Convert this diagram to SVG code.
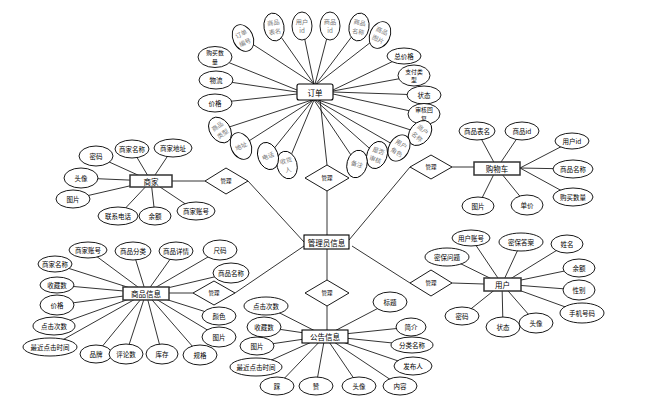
<svg xmlns="http://www.w3.org/2000/svg" width="647" height="405" viewBox="0 0 647 405">
<style>
.l{stroke:#000;stroke-width:0.8;fill:none}
ellipse{fill:#fff;stroke:#000;stroke-width:0.9}
.e{fill:#fff;stroke:#333;stroke-width:1.5}
.m{fill:#fff;stroke:#000;stroke-width:1.1}
polygon{fill:#fff;stroke:#000;stroke-width:0.9}
text{font-family:"Noto Sans CJK SC","Noto Sans",sans-serif;font-size:6.5px;text-anchor:middle;dominant-baseline:central;fill:#000}
.g{fill:#777;font-size:6.2px}
.w{font-size:5.8px}
.n{font-size:7.5px}
.s{font-size:5.5px}
</style>
<rect width="647" height="405" fill="#fff"/>
<g id="connectors" class="l">
<path d="M243,38L314,84M274,27L314,84M302,26L314,84M330,26L315,84M359,27L316,84M380,35L317,84M215,57L297,90M216,80L297,92M215,103L297,94M404,56L333,90M414,76L333,91M424,95L333,92M424,114L333,94M420,133L318,100M399,148L316,100M377,155L315,100M357,164L314,100M287,165L314,100M268,156L313,100M241,146L313,100M220,130L312,100M320,100L327,165M327,191L327,235"/>
<path d="M96,156L151,181M132,149L151,181M173,148L151,181M81,178L151,181M73,199L151,181M118,216L151,181M155,216L151,181M196,211L151,181M172,181L205,181M248,181L304,242"/>
<path d="M477,131L497,168M522,131L497,168M572,141L520,168M573,169L520,168M573,197L520,168M527,205L497,168M478,206L497,168M349,240L410,167M452,167L474,167"/>
<path d="M471,238L502,284M447,257L502,284M521,243L502,284M567,244L502,284M579,268L502,284M579,290L502,284M582,313L502,284M536,323L502,284M503,327L502,284M462,316L502,284M352,246L410,283M452,283L484,284"/>
<path d="M266,306L325,336M264,327L325,336M257,346L325,336M256,367L325,336M277,386L325,336M316,386L325,336M359,386L325,336M400,386L325,336M413,366L325,336M412,345L325,336M411,327L325,336M390,302L325,336M327,249L327,280M327,306L327,330"/>
<path d="M88,250L146,293M133,251L146,293M176,251L146,293M220,250L146,293M55,264L146,293M231,273L146,293M57,285L146,293M57,305L146,293M54,326L146,293M50,347L146,293M96,354L146,293M126,354L146,293M162,354L146,293M200,355L146,293M219,316L146,293M219,337L146,293M169,293L193,293M235,293L304,246"/>
</g>
<g id="admin"><rect class="m" x="304" y="235" width="45" height="14"/><text class="n" x="326.5" y="242">管理员信息</text></g>
<g id="order"><rect class="m" x="297" y="84" width="36" height="16" rx="2"/><text class="n" x="315" y="92">订单</text></g>
<g id="merchant"><rect class="e" x="130" y="175" width="42" height="12"/><text class="n" x="151" y="181">商家</text></g>
<g id="cart"><rect class="e" x="474" y="162" width="46" height="13"/><text class="n" x="497" y="168.5">购物车</text></g>
<g id="user"><rect class="e" x="484" y="278" width="37" height="13"/><text class="n" x="502.5" y="284.5">用户</text></g>
<g id="notice"><rect class="m" x="302" y="330" width="46" height="13"/><text class="n" x="325" y="336.5">公告信息</text></g>
<g id="goods"><rect class="e" x="123" y="287" width="46" height="13"/><text class="n" x="146" y="293.5">商品信息</text></g>
<g id="r-merchant"><polygon points="205,181 226,168 248,181 226,194"/><text class="s" x="226" y="181">管理</text></g>
<g id="r-order"><polygon points="305,178 327,165 349,178 327,191"/><text class="s" x="327" y="178">管理</text></g>
<g id="r-cart"><polygon points="410,167 431,155 452,167 431,179"/><text class="s" x="431" y="167">管理</text></g>
<g id="r-user"><polygon points="410,283 431,270 452,283 431,296"/><text class="s" x="431" y="283">管理</text></g>
<g id="r-notice"><polygon points="305,293 327,280 349,293 327,306"/><text class="s" x="327" y="293">管理</text></g>
<g id="r-goods"><polygon points="193,293 214,281 235,293 214,305"/><text class="s" x="214" y="293">管理</text></g>
<g id="o1" transform="translate(243,38) rotate(-25)"><ellipse rx="10" ry="14"/><text class="g" x="0" y="-4.6">订单</text><text class="g" x="0" y="4.6">编号</text></g>
<g id="o2" transform="translate(274,27) rotate(-10)"><ellipse rx="10" ry="14"/><text class="g" x="0" y="-4.6">商品</text><text class="g" x="0" y="4.6">表名</text></g>
<g id="o3" transform="translate(302,26)"><ellipse rx="10" ry="14"/><text class="g" x="0" y="-4.6">用户</text><text class="g" x="0" y="4.6">id</text></g>
<g id="o4" transform="translate(330,26)"><ellipse rx="10" ry="14"/><text class="g" x="0" y="-4.6">商品</text><text class="g" x="0" y="4.6">id</text></g>
<g id="o5" transform="translate(359,27) rotate(10)"><ellipse rx="10" ry="14"/><text class="g" x="0" y="-4.6">商品</text><text class="g" x="0" y="4.6">名称</text></g>
<g id="o6" transform="translate(380,35) rotate(25)"><ellipse rx="10" ry="14"/><text class="g" x="0" y="-4.6">商品</text><text class="g" x="0" y="4.6">图片</text></g>
<g id="o7"><ellipse cx="404" cy="56" rx="17" ry="8"/><text x="404" y="56">总价格</text></g>
<g id="o8"><ellipse cx="414" cy="75.5" rx="16" ry="10.5"/><text class="w" x="414" y="71.1">支付类</text><text class="w" x="414" y="79.9">型</text></g>
<g id="o9"><ellipse cx="424" cy="95" rx="17" ry="9"/><text x="424" y="95">状态</text></g>
<g id="o10"><ellipse cx="424" cy="114" rx="16" ry="10.5"/><text class="w" x="424" y="109.6">审核回</text><text class="w" x="424" y="118.4">复</text></g>
<g id="o11" transform="translate(420,133) rotate(40)"><ellipse rx="10" ry="14"/><text class="g" x="0" y="-4.6">商户</text><text class="g" x="0" y="4.6">名称</text></g>
<g id="o12" transform="translate(399,148) rotate(30)"><ellipse rx="10" ry="14"/><text class="g" x="0" y="-4.6">用户</text><text class="g" x="0" y="4.6">角色</text></g>
<g id="o13" transform="translate(377,155) rotate(20)"><ellipse rx="10" ry="14"/><text class="g" x="0" y="-4.6">是否</text><text class="g" x="0" y="4.6">审核</text></g>
<g id="o14" transform="translate(357,164) rotate(15)"><ellipse rx="10" ry="14"/><text class="g">备注</text></g>
<g id="o15" transform="translate(287,165) rotate(-15)"><ellipse rx="10" ry="14"/><text class="g" x="0" y="-4.6">收货</text><text class="g" x="0" y="4.6">人</text></g>
<g id="o16" transform="translate(268,156) rotate(-20)"><ellipse rx="10" ry="14"/><text class="g">电话</text></g>
<g id="o17" transform="translate(241,146) rotate(-25)"><ellipse rx="10" ry="14"/><text class="g">地址</text></g>
<g id="o18" transform="translate(220,130) rotate(-35)"><ellipse rx="10" ry="14"/><text class="g" x="0" y="-4.6">商品</text><text class="g" x="0" y="4.6">类型</text></g>
<g id="o19"><ellipse cx="215" cy="57" rx="17" ry="10.5"/><text class="w" x="215" y="52.6">购买数</text><text class="w" x="215" y="61.4">量</text></g>
<g id="o20"><ellipse cx="216" cy="80" rx="17" ry="9"/><text x="216" y="80">物流</text></g>
<g id="o21"><ellipse cx="215" cy="103" rx="17" ry="9"/><text x="215" y="103">价格</text></g>
<g id="m1"><ellipse cx="96" cy="156" rx="17" ry="10"/><text x="96" y="156">密码</text></g>
<g id="m2"><ellipse cx="132" cy="149" rx="17" ry="9"/><text x="132" y="149">商家名称</text></g>
<g id="m3"><ellipse cx="173" cy="148" rx="19" ry="9"/><text x="173" y="148">商家地址</text></g>
<g id="m4"><ellipse cx="81" cy="178" rx="17" ry="10"/><text x="81" y="178">头像</text></g>
<g id="m5"><ellipse cx="73" cy="199" rx="17" ry="9"/><text x="73" y="199">图片</text></g>
<g id="m6"><ellipse cx="118" cy="216" rx="20" ry="9"/><text x="118" y="216">联系电话</text></g>
<g id="m7"><ellipse cx="155" cy="216" rx="16" ry="9"/><text x="155" y="216">余额</text></g>
<g id="m8"><ellipse cx="196" cy="211" rx="19" ry="9"/><text x="196" y="211">商家账号</text></g>
<g id="c1"><ellipse cx="477" cy="131" rx="18" ry="9"/><text x="477" y="131">商品表名</text></g>
<g id="c2"><ellipse cx="522" cy="131" rx="17" ry="9"/><text x="522" y="131">商品id</text></g>
<g id="c3"><ellipse cx="572" cy="141" rx="17" ry="8"/><text x="572" y="141">用户id</text></g>
<g id="c4"><ellipse cx="573" cy="169" rx="20" ry="9"/><text x="573" y="169">商品名称</text></g>
<g id="c5"><ellipse cx="573" cy="197" rx="20" ry="9"/><text x="573" y="197">购买数量</text></g>
<g id="c6"><ellipse cx="527" cy="205" rx="16" ry="10"/><text x="527" y="205">单价</text></g>
<g id="c7"><ellipse cx="478" cy="206" rx="16" ry="9"/><text x="478" y="206">图片</text></g>
<g id="u1"><ellipse cx="471" cy="238" rx="19" ry="8"/><text x="471" y="238">用户账号</text></g>
<g id="u2"><ellipse cx="447" cy="257" rx="22" ry="9"/><text x="447" y="257">密保问题</text></g>
<g id="u3"><ellipse cx="521" cy="242" rx="22" ry="9"/><text x="521" y="242">密保答案</text></g>
<g id="u4"><ellipse cx="567" cy="244" rx="16" ry="9"/><text x="567" y="244">姓名</text></g>
<g id="u5"><ellipse cx="579" cy="268" rx="16" ry="9"/><text x="579" y="268">余额</text></g>
<g id="u6"><ellipse cx="579" cy="290" rx="16" ry="10"/><text x="579" y="290">性别</text></g>
<g id="u7"><ellipse cx="582" cy="313" rx="22" ry="10"/><text x="582" y="313">手机号码</text></g>
<g id="u8"><ellipse cx="536" cy="323" rx="17" ry="10"/><text x="536" y="323">头像</text></g>
<g id="u9"><ellipse cx="503" cy="327" rx="17" ry="10"/><text x="503" y="327">状态</text></g>
<g id="u10"><ellipse cx="462" cy="316" rx="17" ry="9"/><text x="462" y="316">密码</text></g>
<g id="n1"><ellipse cx="266" cy="306" rx="22" ry="9"/><text x="266" y="306">点击次数</text></g>
<g id="n2"><ellipse cx="264" cy="327" rx="17" ry="10"/><text x="264" y="327">收藏数</text></g>
<g id="n3"><ellipse cx="257" cy="346" rx="17" ry="9"/><text x="257" y="346">图片</text></g>
<g id="n4"><ellipse cx="256" cy="367" rx="26" ry="9"/><text x="256" y="367">最近点击时间</text></g>
<g id="n5"><ellipse cx="277" cy="386" rx="17" ry="9"/><text x="277" y="386">踩</text></g>
<g id="n6"><ellipse cx="316" cy="386" rx="17" ry="9"/><text x="316" y="386">赞</text></g>
<g id="n7"><ellipse cx="359" cy="386" rx="17" ry="9"/><text x="359" y="386">头像</text></g>
<g id="n8"><ellipse cx="400" cy="386" rx="17" ry="9"/><text x="400" y="386">内容</text></g>
<g id="n9"><ellipse cx="413" cy="366" rx="19" ry="9"/><text x="413" y="366">发布人</text></g>
<g id="n10"><ellipse cx="412" cy="345" rx="21" ry="8"/><text x="412" y="345">分类名称</text></g>
<g id="n11"><ellipse cx="411" cy="327" rx="15" ry="9"/><text x="411" y="327">简介</text></g>
<g id="n12"><ellipse cx="390" cy="302" rx="17" ry="10"/><text x="390" y="302">标题</text></g>
<g id="g1"><ellipse cx="88" cy="250" rx="19" ry="8"/><text x="88" y="250">商家账号</text></g>
<g id="g2"><ellipse cx="133" cy="251" rx="18" ry="9"/><text x="133" y="251">商品分类</text></g>
<g id="g3"><ellipse cx="176" cy="251" rx="17" ry="9"/><text x="176" y="251">商品详情</text></g>
<g id="g4"><ellipse cx="220" cy="250" rx="17" ry="10"/><text x="220" y="250">尺码</text></g>
<g id="g5"><ellipse cx="55" cy="264" rx="17" ry="8"/><text x="55" y="264">商家名称</text></g>
<g id="g6"><ellipse cx="231" cy="273" rx="18" ry="10"/><text x="231" y="273">商品名称</text></g>
<g id="g7"><ellipse cx="57" cy="285" rx="17" ry="8"/><text x="57" y="285">收藏数</text></g>
<g id="g8"><ellipse cx="57" cy="305" rx="17" ry="10"/><text x="57" y="305">价格</text></g>
<g id="g9"><ellipse cx="54" cy="326" rx="21" ry="9"/><text x="54" y="326">点击次数</text></g>
<g id="g10"><ellipse cx="50" cy="347" rx="27" ry="9"/><text x="50" y="347">最近点击时间</text></g>
<g id="g11"><ellipse cx="96" cy="354" rx="16" ry="9"/><text x="96" y="354">品牌</text></g>
<g id="g12"><ellipse cx="126" cy="354" rx="17" ry="10"/><text x="126" y="354">评论数</text></g>
<g id="g13"><ellipse cx="162" cy="354" rx="16" ry="10"/><text x="162" y="354">库存</text></g>
<g id="g14"><ellipse cx="200" cy="355" rx="17" ry="10"/><text x="200" y="355">规格</text></g>
<g id="g15"><ellipse cx="219" cy="316" rx="17" ry="9"/><text x="219" y="316">颜色</text></g>
<g id="g16"><ellipse cx="219" cy="337" rx="17" ry="10"/><text x="219" y="337">图片</text></g>
</svg>
